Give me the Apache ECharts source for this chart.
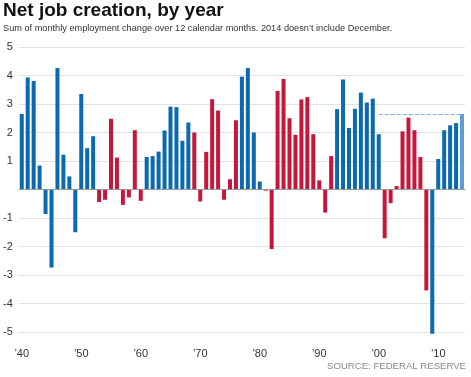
<!DOCTYPE html>
<html>
<head>
<meta charset="utf-8">
<script src="https://cdn.jsdelivr.net/npm/echarts@6/dist/echarts.min.js"></script>
<style>
  html, body { margin: 0; padding: 0; background: #fff; }
  #chart { width: 471px; height: 377px; }
</style>
</head>
<body>
<div id="chart"></div>
<script>
// net job creation, millions, per calendar year
const years = [
  '1940', '1941', '1942', '1943', '1944', '1945', '1946', '1947', '1948', '1949',
  '1950', '1951', '1952', '1953', '1954', '1955', '1956', '1957', '1958', '1959',
  '1960', '1961', '1962', '1963', '1964', '1965', '1966', '1967', '1968', '1969',
  '1970', '1971', '1972', '1973', '1974', '1975', '1976', '1977', '1978', '1979',
  '1980', '1981', '1982', '1983', '1984', '1985', '1986', '1987', '1988', '1989',
  '1990', '1991', '1992', '1993', '1994', '1995', '1996', '1997', '1998', '1999',
  '2000', '2001', '2002', '2003', '2004', '2005', '2006', '2007', '2008', '2009',
  '2010', '2011', '2012', '2013', '2014'
]
const jobs = [
  2.65, 3.93, 3.81, 0.84, -0.86, -2.74, 4.26, 1.22, 0.46, -1.50,
  3.35, 1.45, 1.87, -0.44, -0.36, 2.48, 1.12, -0.54, -0.28, 2.08,
  -0.40, 1.14, 1.17, 1.33, 2.07, 2.91, 2.89, 1.71, 2.35, 2.00,
  -0.42, 1.32, 3.17, 2.77, -0.36, 0.36, 2.43, 3.96, 4.26, 2.00,
  0.28, -0.04, -2.09, 3.46, 3.88, 2.50, 1.92, 3.16, 3.24, 1.94,
  0.32, -0.81, 1.17, 2.82, 3.86, 2.16, 2.83, 3.40, 3.05, 3.19,
  1.94, -1.71, -0.48, 0.12, 2.04, 2.52, 2.08, 1.14, -3.54, -5.06,
  1.07, 2.08, 2.25, 2.33, 2.65
]
// party of the president, D / R
const party = [
  'D', 'D', 'D', 'D', 'D', 'D', 'D', 'D', 'D', 'D',
  'D', 'D', 'D', 'R', 'R', 'R', 'R', 'R', 'R', 'R',
  'R', 'D', 'D', 'D', 'D', 'D', 'D', 'D', 'D', 'R',
  'R', 'R', 'R', 'R', 'R', 'R', 'R', 'D', 'D', 'D',
  'D', 'R', 'R', 'R', 'R', 'R', 'R', 'R', 'R', 'R',
  'R', 'R', 'R', 'D', 'D', 'D', 'D', 'D', 'D', 'D',
  'D', 'R', 'R', 'R', 'R', 'R', 'R', 'R', 'R', 'D',
  'D', 'D', 'D', 'D', 'D'
]
const yTicks = [-5, -4, -3, -2, -1, 0, 1, 2, 3, 4, 5]
const partialYear = '2014'
const refLine = { from: '2000', to: '2014', value: 2.65 }

const colors = { D: '#0b69ae', R: '#c6173b', partial: '#5b9fd6' }

const chart = echarts.init(document.getElementById('chart'))

const barData = jobs.map((v, i) => ({
  value: v,
  itemStyle: {
    color: years[i] === partialYear ? colors.partial : colors[party[i]]
  }
}))

const font = "'Liberation Sans', Arial, sans-serif"

chart.setOption({
  animation: false,
  textStyle: { fontFamily: font },
  title: [
    {
      text: 'Net job creation, by year',
      left: 3,
      top: 1,
      padding: 0,
      textStyle: { fontSize: 19, fontWeight: 'bold', color: '#111', fontFamily: font }
    },
    {
      text: 'Sum of monthly employment change over 12 calendar months. 2014 doesn\u2019t include December.',
      left: 3,
      top: 24,
      padding: 0,
      textStyle: { fontSize: 9.2, fontWeight: 'normal', color: '#333', fontFamily: font }
    },
    {
      text: 'SOURCE: FEDERAL RESERVE',
      right: 5,
      top: 361,
      padding: 0,
      textStyle: { fontSize: 9.6, fontWeight: 'normal', color: '#8a8a8a', fontFamily: font }
    }
  ],
  grid: { left: 15, right: 6, top: 47, bottom: 45, containLabel: false },
  xAxis: {
    type: 'category',
    data: years,
    axisLine: { show: false },
    axisTick: { show: false },
    axisLabel: {
      interval: (i, y) => Number(y) % 10 === 0,
      formatter: y => '\u2019' + y.slice(2),
      color: '#333',
      fontSize: 11,
      margin: 16
    }
  },
  yAxis: {
    type: 'value',
    min: yTicks[0],
    max: yTicks[yTicks.length - 1],
    interval: 1,
    axisLine: { show: false },
    axisTick: { show: false },
    axisLabel: {
      color: '#333',
      fontSize: 11,
      margin: 6,
      formatter: v => (v === 0 ? '' : String(v))
    },
    splitLine: { lineStyle: { color: '#e2e2e2', width: 1 } }
  },
  series: [
    {
      type: 'bar',
      data: barData,
      barWidth: 4,
      clip: false,
      markLine: {
        silent: true,
        symbol: 'none',
        label: { show: false },
        lineStyle: { type: 'dashed', color: '#7fb0de', width: 1 },
        data: [[
          { coord: [refLine.from, refLine.value] },
          { coord: [refLine.to, refLine.value] }
        ]]
      }
    },
    {
      // zero baseline
      type: 'line',
      data: [],
      markLine: {
        silent: true,
        symbol: 'none',
        label: { show: false },
        lineStyle: { type: 'solid', color: '#9a9a9a', width: 1 },
        data: [{ yAxis: 0 }]
      }
    }
  ]
})
</script>
</body>
</html>
